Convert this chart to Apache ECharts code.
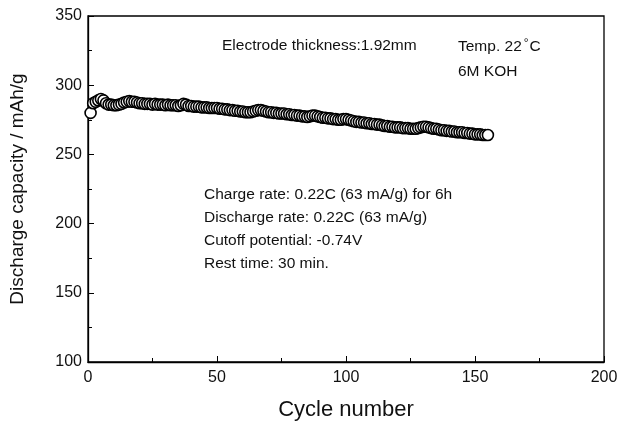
<!DOCTYPE html>
<html>
<head>
<meta charset="utf-8">
<script src="https://cdn.jsdelivr.net/npm/echarts@6/dist/echarts.min.js"></script>
<style>html,body{margin:0;padding:0;background:#fff}#c{width:623px;height:423px}</style>
</head>
<body>
<div id="c"></div>
<script>
const xTicks = [0, 50, 100, 150, 200];
const yTicks = [100, 150, 200, 250, 300, 350];
const capacity = [
280,287,288,289,290,289,287,286,286,285.5,
285.5,286,286.5,287.5,288,288.5,288,288,287.5,287,
287,286.5,286.5,286.5,286,286.5,286,286,286,285.5,
286,285.5,285.5,285.5,285,285.5,286.5,286,285,285,
284.5,284.5,284.5,284,284,284,283.5,283.5,283.5,283.5,
283,283,282.5,282.5,282,282,281.5,281.5,281,281,
280.5,280.5,280.5,281,281.5,282,282,281.5,281,280.5,
280.5,280,280,279.5,279.5,279.5,279,279,278.5,278.5,
278,278,277.5,277.5,277,277.5,278,278,277.5,277,
276.5,276.5,276,276,275.5,275.5,275,275,275.5,275.5,
275,274.5,274,273.5,273.5,273,273,272.5,272.5,272,
272,271.5,271.5,271,270.5,270.5,270,270,269.5,269.5,
269.5,269,269,269,268.5,268.5,268.5,269,269.5,270,
270,269.5,269,268.5,268.5,268,267.5,267.5,267,267,
266.5,266.5,266,266,266,265.5,265.5,265,265,264.5,
264.5,264.5,264,264,264
];
const notesTop = ["Electrode thickness:1.92mm"];
const notesRate = [
  "Charge rate: 0.22C (63 mA/g) for 6h",
  "Discharge rate: 0.22C (63 mA/g)",
  "Cutoff potential: -0.74V",
  "Rest time: 30 min."
];

const data = capacity.map((v, i) => [i + 1, v]);
const font = "'Liberation Sans', Arial, sans-serif";
const chart = echarts.init(document.getElementById('c'));
const fs = 15.5;

const graphics = [];
graphics.push({type:'text', left:222, top:38, style:{text:notesTop[0], font:fs + "px " + font, fill:'#111'}});
graphics.push({type:'text', left:458, top:38, style:{
  text:'{n|Temp. 22}{s|°}{n|C}', rich:{n:{fontSize:fs, fontFamily:font, fill:'#111'}, s:{fontSize:12, fontFamily:font, fill:'#111', verticalAlign:'top', padding:[0,1,6,2]}}
}});
graphics.push({type:'text', left:458, top:64, style:{text:'6M KOH', font:fs + "px " + font, fill:'#111'}});
notesRate.forEach((t, i) => graphics.push({type:'text', left:204, top:187 + i*23, style:{text:t, font:fs + "px " + font, fill:'#111'}}));

chart.setOption({
  animation: false,
  backgroundColor: '#fff',
  grid: {left: 88, right: 19, top: 16, bottom: 61, show: true, borderColor: '#000', borderWidth: 1.3,
    backgroundColor: 'transparent', containLabel: false, outerBoundsMode: 'none'},
  xAxis: {
    type: 'value', min: 0, max: 200, interval: 50,
    name: 'Cycle number', nameLocation: 'middle', nameGap: 37,
    nameTextStyle: {fontFamily: font, fontSize: 22, color: '#111'},
    axisLine: {show: true, lineStyle: {color: '#000', width: 1.3}},
    axisTick: {show: true, inside: true, length: 6, lineStyle: {color: '#000'}},
    minorTick: {show: true, splitNumber: 2, length: 4, lineStyle: {color: '#000'}},
    splitLine: {show: false},
    axisLabel: {fontFamily: font, fontSize: 16, color: '#111', margin: 8,
      formatter: v => xTicks.includes(v) ? String(v) : ''}
  },
  yAxis: {
    type: 'value', min: 100, max: 350, interval: 50,
    name: 'Discharge capacity / mAh/g', nameLocation: 'middle', nameGap: 61,
    nameTextStyle: {fontFamily: font, fontSize: 19, color: '#111'},
    axisLine: {show: true, lineStyle: {color: '#000', width: 1.3}},
    axisTick: {show: true, inside: true, length: 6, lineStyle: {color: '#000'}},
    minorTick: {show: true, splitNumber: 2, length: 4, lineStyle: {color: '#000'}},
    splitLine: {show: false},
    axisLabel: {fontFamily: font, fontSize: 16, color: '#111', margin: 6,
      formatter: v => yTicks.includes(v) ? String(v) : ''}
  },
  series: [{
    type: 'scatter', data: data, symbol: 'circle', symbolSize: 11,
    itemStyle: {color: '#fff', borderColor: '#000', borderWidth: 1.6, opacity: 1}
  }],
  graphic: graphics
});
</script>
</body>
</html>
